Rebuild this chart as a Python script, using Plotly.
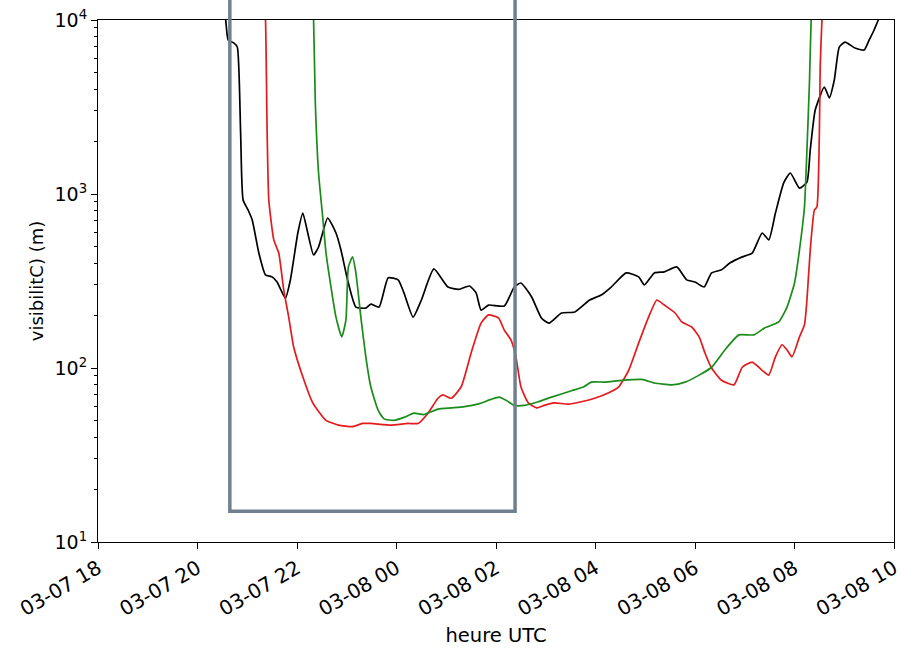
import math
import plotly.graph_objects as go

DAY1 = "2021-03-07"
DAY2 = "2021-03-08"

def ts(hhmm):
    h = int(hhmm.split(":")[0])
    return (DAY1 if h >= 12 else DAY2) + " " + hhmm

# ---- data ----
black_times = ["20:32", "20:34", "20:37", "20:44", "20:48", "20:52", "20:55", "21:01", "21:06", "21:14",
               "21:22", "21:30", "21:36", "21:46", "21:52", "22:01", "22:07", "22:13", "22:20", "22:26",
               "22:37", "22:47", "22:53", "23:01", "23:11", "23:23", "23:29", "23:39", "23:50", "00:02",
               "00:09", "00:20", "00:30", "00:45", "01:02", "01:15", "01:28", "01:36", "01:42", "01:51",
               "02:10", "02:22", "02:30", "02:43", "02:55", "03:04", "03:19", "03:35", "03:53", "04:07",
               "04:19", "04:37", "04:52", "04:59", "05:11", "05:23", "05:38", "05:50", "06:00", "06:11",
               "06:20", "06:32", "06:42", "06:57", "07:09", "07:21", "07:29", "07:37", "07:47", "07:55",
               "08:06", "08:15", "08:19", "08:25", "08:36", "08:42", "08:48", "08:54", "09:01", "09:13",
               "09:24", "09:30", "09:36", "09:40", "09:44"]
black_vals = [11000, 10000, 7670, 7370, 6990, 2240, 924, 809, 709, 458,
              343, 334, 312, 252, 321, 597, 777, 597, 446, 496,
              728, 597, 477, 321, 224, 221, 233, 224, 330, 321,
              270, 196, 246, 371, 292, 283, 296, 270, 215, 230,
              227, 292, 308, 256, 193, 181, 207, 210, 246, 263,
              292, 352, 334, 300, 352, 357, 381, 321, 312, 292,
              352, 367, 401, 435, 458, 597, 545, 777, 1160, 1320,
              1080, 1170, 1790, 3040, 4120, 3570, 4520, 6990, 7470, 6900,
              6720, 7670, 8760, 9740, 10700]

red_times = ["21:21", "21:22", "21:24", "21:26", "21:32", "21:38", "21:44", "21:50", "21:56", "22:07",
             "22:19", "22:35", "22:50", "23:07", "23:19", "23:29", "23:53", "00:14", "00:26", "00:38",
             "00:50", "00:56", "01:06", "01:18", "01:30", "01:42", "01:51", "02:03", "02:10", "02:18",
             "02:24", "02:30", "02:39", "02:49", "02:58", "03:10", "03:27", "03:43", "03:59", "04:16",
             "04:28", "04:40", "04:52", "05:04", "05:14", "05:23", "05:36", "05:44", "05:56", "06:05",
             "06:12", "06:20", "06:32", "06:47", "06:57", "07:09", "07:21", "07:29", "07:37", "07:45",
             "07:51", "07:57", "08:06", "08:12", "08:15", "08:19", "08:24", "08:27", "08:30", "08:31",
             "08:33", "08:34"]
red_vals = [11000, 10000, 2240, 924, 545, 458, 281, 196, 132, 89,
            63, 50, 47, 46, 48, 48, 47, 48, 48, 55,
            67, 70, 67, 78, 122, 181, 202, 194, 165, 145,
            116, 78, 63, 59, 61, 63, 62, 64, 67, 72,
            78, 97, 139, 196, 246, 230, 207, 184, 172, 151,
            122, 100, 85, 80, 101, 108, 97, 91, 116, 136,
            127, 116, 151, 177, 246, 477, 809, 842, 2240, 5360,
            9740, 11400]

green_times = ["22:19", "22:20", "22:22", "22:26", "22:31", "22:35", "22:41", "22:47", "22:54", "22:59",
               "23:02", "23:07", "23:11", "23:17", "23:23", "23:29", "23:38", "23:45", "23:57", "00:09",
               "00:21", "00:33", "00:50", "01:06", "01:22", "01:38", "01:54", "02:04", "02:15", "02:22",
               "02:34", "02:51", "03:07", "03:31", "03:46", "03:55", "04:11", "04:32", "04:56", "05:11",
               "05:32", "05:48", "06:05", "06:20", "06:36", "06:53", "07:11", "07:24", "07:41", "07:51",
               "08:00", "08:06", "08:12", "08:15", "08:18", "08:20", "08:21"]
green_vals = [11400, 10000, 3470, 1320, 737, 458, 292, 196, 151, 189,
              381, 435, 352, 196, 116, 78, 57, 51, 50, 52,
              55, 54, 58, 59, 60, 62, 66, 68, 64, 61,
              61, 64, 68, 74, 78, 83, 83, 85, 86, 82,
              80, 83, 91, 101, 127, 155, 155, 170, 184, 224,
              308, 477, 842, 1790, 4350, 9740, 11400]

box_start = "20:39"
box_end = "02:23"
box_bottom = 15

y_tick_vals = [10, 100, 1000, 10000]
y_tick_text = ["10<sup>1</sup>", "10<sup>2</sup>", "10<sup>3</sup>", "10<sup>4</sup>"]

FONT = "DejaVu Sans"

fig = go.Figure()
for times, vals, col in [(black_times, black_vals, "black"),
                         (red_times, red_vals, "#e41a1c"),
                         (green_times, green_vals, "#1a8c1a")]:
    fig.add_trace(go.Scatter(x=[ts(t) for t in times], y=vals, mode="lines",
                             line=dict(color=col, width=1.7, shape="spline", smoothing=0.5),
                             showlegend=False, hoverinfo="skip"))

y_lo, y_hi = 1, 4
fig.add_shape(type="rect", xref="x", yref="paper",
              x0=ts(box_start), x1=ts(box_end),
              y0=(math.log10(box_bottom) - y_lo) / (y_hi - y_lo), y1=1.3,
              line=dict(color="#708090", width=3.5), fillcolor="rgba(0,0,0,0)",
              layer="above")

minor_vals = [m * 10 ** k for k in range(1, 4) for m in range(2, 10)]

fig.update_layout(
    width=901, height=653,
    margin=dict(l=98, r=7, t=20, b=111),
    paper_bgcolor="white", plot_bgcolor="white",
    font=dict(family=FONT, size=19, color="black"),
    xaxis=dict(type="date", automargin=False, ticklabeloverflow="allow",
               range=[DAY1 + " 18:00", DAY2 + " 10:00"],
               tick0=DAY1 + " 18:00", dtick=2 * 3600 * 1000,
               tickformat="%m-%d %H", tickangle=-30,
               tickfont=dict(size=20),
               ticks="outside", ticklen=6, tickcolor="black",
               showline=True, linecolor="black", linewidth=1, mirror=True,
               showgrid=False, zeroline=False,
               title=dict(text="heure UTC", font=dict(size=19.5), standoff=8)),
    yaxis=dict(type="log", range=[y_lo, y_hi], automargin=False,
               ticklabeloverflow="allow",
               tickvals=y_tick_vals, ticktext=y_tick_text,
               tickfont=dict(size=19),
               ticks="outside", ticklen=6, tickcolor="black",
               minor=dict(tickvals=minor_vals, ticks="outside", ticklen=3.5,
                          tickcolor="black", showgrid=False),
               showline=True, linecolor="black", linewidth=1, mirror=True,
               showgrid=False, zeroline=False,
               title=dict(text="visibilitC) (m)", font=dict(size=18), standoff=6)),
)

fig.write_html("out.html", config={"displayModeBar": False},
               post_script="document.body.style.margin='0';")
